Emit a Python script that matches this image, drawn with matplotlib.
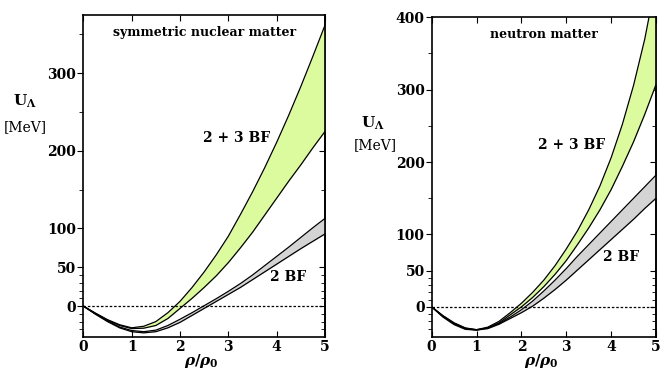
import matplotlib
matplotlib.use("Agg")
import matplotlib.pyplot as plt

# density grid rho/rho0
rho = [0.0, 0.25, 0.5, 0.75, 1.0, 1.25, 1.5, 1.75, 2.0, 2.25, 2.5,
       2.75, 3.0, 3.25, 3.5, 3.75, 4.0, 4.25, 4.5, 4.75, 5.0]

# symmetric nuclear matter, U_Lambda [MeV]
snm_23_hi = [0, -9, -17.5, -24, -28, -26, -20, -8.5, 6, 24, 44,
             66, 90, 118, 147, 178, 211, 246, 283, 322, 362]
snm_23_lo = [0, -9.5, -18, -25, -29, -28.5, -25, -16, -3, 10, 24,
             39, 56, 75, 95, 117, 139, 161, 182, 204, 225]
snm_2_hi = [0, -10, -19, -27, -31.5, -33, -31, -25, -17, -8.5, 0.5,
            9.5, 19, 29, 40, 52, 64, 76, 88.5, 101, 113]
snm_2_lo = [0, -10.5, -20, -28, -33, -34.5, -33, -28, -21, -12, -3,
            6, 15, 24, 34, 44, 54, 64, 74, 83.5, 93]

# neutron matter
nm_23_hi = [0, -12, -22, -29, -31.5, -28, -20, -8, 5, 20, 37,
            57, 80, 105, 134, 167, 206, 252, 306, 370, 450]
nm_23_lo = [0, -13, -23.5, -30, -32, -29, -22, -11, 0, 13, 28,
            45, 64, 86, 109, 134, 162, 194, 228, 266, 307]
nm_2_hi = [0, -12.5, -22.5, -29.5, -31.5, -29, -23, -14, -4, 8, 22,
           37, 53, 70, 86, 102, 118, 134, 150, 166, 182]
nm_2_lo = [0, -14, -24.5, -31, -32, -30, -24, -16, -8, 1, 12,
           24, 37, 51, 65, 79, 93, 107, 121, 136, 150]

green = "#dcfb9f"
grey = "#d4d4d4"

plt.rcParams["font.family"] = "DejaVu Serif"
plt.rcParams["font.weight"] = "bold"
plt.rcParams["mathtext.fontset"] = "dejavuserif"

fig = plt.figure(figsize=(6.67, 3.75), dpi=100)
ax1 = fig.add_axes([0.1249, 0.101, 0.3624, 0.859])
ax2 = fig.add_axes([0.6472, 0.1005, 0.3363, 0.8535])


def draw_panel(ax, g_hi, g_lo, b_hi, b_lo, ylim, majors, minors, title, pos23, pos2):
    ax.fill_between(rho, g_lo, g_hi, color=green, lw=0)
    ax.fill_between(rho, b_lo, b_hi, color=grey, lw=0)
    for y in (g_hi, g_lo, b_hi, b_lo):
        ax.plot(rho, y, color="black", lw=0.9)
    ax.axhline(0, color="black", lw=0.9, ls=(0, (2, 1.5)))
    ax.set_xlim(0, 5)
    ax.set_ylim(*ylim)
    ax.set_xticks(range(6))
    ax.set_yticks(majors)
    ax.set_yticks(minors, minor=True)
    ax.tick_params(axis="x", which="both", direction="in", top=True, bottom=True,
                   labelsize=10, length=4, pad=2)
    ax.tick_params(axis="y", which="major", direction="out", length=4, labelsize=10, pad=1)
    ax.tick_params(axis="y", which="minor", direction="out", length=3)
    sec = ax.secondary_yaxis("right")
    sec.set_yticks(majors)
    sec.set_yticks(minors, minor=True)
    sec.tick_params(which="both", direction="in", labelright=False, length=4)
    sec.tick_params(which="minor", length=3)
    for s in ax.spines.values():
        s.set_linewidth(1.2)
    sec.spines["right"].set_linewidth(1.2)
    ax.set_xlabel(r"$\rho/\rho_0$", fontsize=11, labelpad=-2)
    ax.xaxis.set_label_coords(0.49, -0.045, transform=ax.transAxes)
    ax.xaxis.label.set_va("top")
    ax.text(0.5, 0.945, title, transform=ax.transAxes, ha="center", va="center",
            fontsize=9, fontweight="bold")
    ax.text(pos23[0], pos23[1], "2 + 3 BF", ha="center", va="center",
            fontsize=10, fontweight="bold")
    ax.text(pos2[0], pos2[1], "2 BF", ha="center", va="center",
            fontsize=10, fontweight="bold")


draw_panel(ax1, snm_23_hi, snm_23_lo, snm_2_hi, snm_2_lo, (-40, 375),
           [0, 50, 100, 200, 300], [-30, -20, -10, 10, 20, 30, 40, 150, 250, 350],
           "symmetric nuclear matter", (3.18, 216), (4.24, 37))
draw_panel(ax2, nm_23_hi, nm_23_lo, nm_2_hi, nm_2_lo, (-42, 400),
           [0, 50, 100, 200, 300, 400], [-30, -20, -10, 10, 20, 30, 40, 150, 250, 350],
           "neutron matter", (3.11, 223), (4.23, 69))

# y-axis labels
fig.text(25 / 667, 1 - 101 / 375, r"$\mathbf{U}_{\mathbf{\Lambda}}$", ha="center", va="center", fontsize=11)
fig.text(25 / 667, 1 - 127 / 375, "[MeV]", ha="center", va="center", fontsize=10, fontweight="normal")
fig.text(373 / 667, 1 - 123 / 375, r"$\mathbf{U}_{\mathbf{\Lambda}}$", ha="center", va="center", fontsize=11)
fig.text(375 / 667, 1 - 145 / 375, "[MeV]", ha="center", va="center", fontsize=10, fontweight="normal")

fig.savefig("out.png", dpi=100)
